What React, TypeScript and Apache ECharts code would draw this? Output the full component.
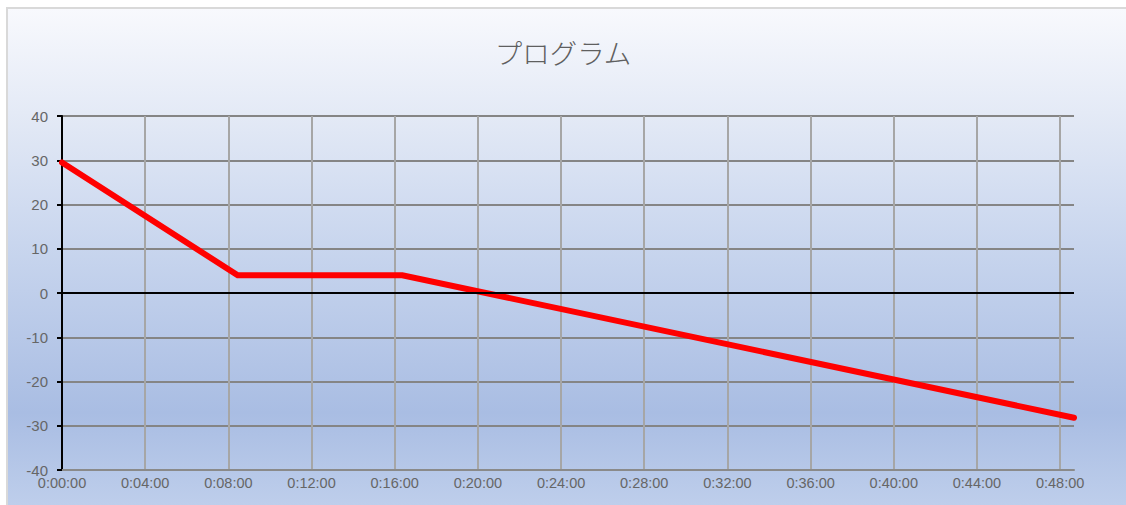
import React, { useEffect, useRef } from "react";
import * as echarts from "echarts";

const titleText = "プログラム";
// time in seconds, temperature
const programTimes = [0, 507, 982, 2920];
const programValues = [29.5, 4, 4, -28.2];
const xMax = 2920;
const xInterval = 240;
const yTicks = [-40, -30, -20, -10, 0, 10, 20, 30, 40];

function fmt(sec: number): string {
  const h = Math.floor(sec / 3600);
  const m = Math.floor((sec % 3600) / 60);
  const s = Math.round(sec % 60);
  return `${h}:${String(m).padStart(2, "0")}:${String(s).padStart(2, "0")}`;
}

export default function App() {
  const ref = useRef<HTMLDivElement>(null);
  useEffect(() => {
    if (!ref.current) return;
    const chart = echarts.init(ref.current, undefined, { renderer: "svg" });
    const data = programTimes.map((t, i) => [t, programValues[i]]);
    chart.setOption({
      animation: false,
      backgroundColor: "transparent",
      title: {
        text: titleText,
        left: "center",
        top: 33,
        padding: [5, 5, 5, 15],
        textStyle: {
          fontFamily: "'Noto Sans CJK JP', sans-serif",
          fontSize: 27.5,
          fontWeight: 300,
          color: "#5f5f5f",
        },
      },
      grid: { left: 62, top: 116, right: 52, bottom: 35, containLabel: false },
      xAxis: {
        type: "value",
        min: 0,
        max: xMax,
        interval: xInterval,
        axisLine: { show: true, onZero: false, lineStyle: { color: "#8a8a8a", width: 2 } },
        axisTick: { show: false },
        axisLabel: {
          formatter: (v: number) => fmt(v),
          color: "#666666",
          fontFamily: "Arial, 'Liberation Sans', sans-serif",
          fontSize: 14.5,
          margin: 5,
          showMaxLabel: false,
        },
        splitLine: {
          show: true,
          showMinLine: false,
          showMaxLine: false,
          lineStyle: { color: "#a6a6a6", width: 2 },
        },
      },
      yAxis: {
        type: "value",
        min: yTicks[0],
        max: yTicks[yTicks.length - 1],
        interval: 10,
        axisLine: { show: true, lineStyle: { color: "#000000", width: 2 } },
        axisTick: { show: true, length: 5, lineStyle: { color: "#000000", width: 2 } },
        axisLabel: {
          color: "#666666",
          fontFamily: "Arial, 'Liberation Sans', sans-serif",
          fontSize: 15,
          margin: 14,
        },
        splitLine: { show: true, lineStyle: { color: "#858585", width: 2 } },
      },
      series: [
        {
          type: "line",
          data,
          symbol: "none",
          lineStyle: { color: "#ff0000", width: 6, cap: "round", join: "miter" },
          markLine: {
            silent: true,
            symbol: "none",
            label: { show: false },
            lineStyle: { color: "#000000", width: 2, type: "solid" },
            data: [{ yAxis: 0 }],
          },
          z: 3,
        },
      ],
    });
    return () => chart.dispose();
  }, []);
  return (
    <div style={{ position: "fixed", left: 0, top: 0, width: 1126, height: 505, overflow: "hidden" }}>
      <div
        style={{
          position: "absolute",
          left: 6,
          top: 7,
          width: 1140,
          height: 520,
          boxSizing: "border-box",
          borderTop: "2px solid #d9d9d9",
          borderLeft: "2px solid #d9d9d9",
          background:
            "linear-gradient(to bottom, #f8f9fd 0%, #e4eaf6 20%, #c9d6ee 45%, #a9bde3 78%, #c3d2ed 100%)",
        }}
      />
      <div ref={ref} style={{ position: "absolute", left: 0, top: 0, width: 1126, height: 505 }} />
    </div>
  );
}
